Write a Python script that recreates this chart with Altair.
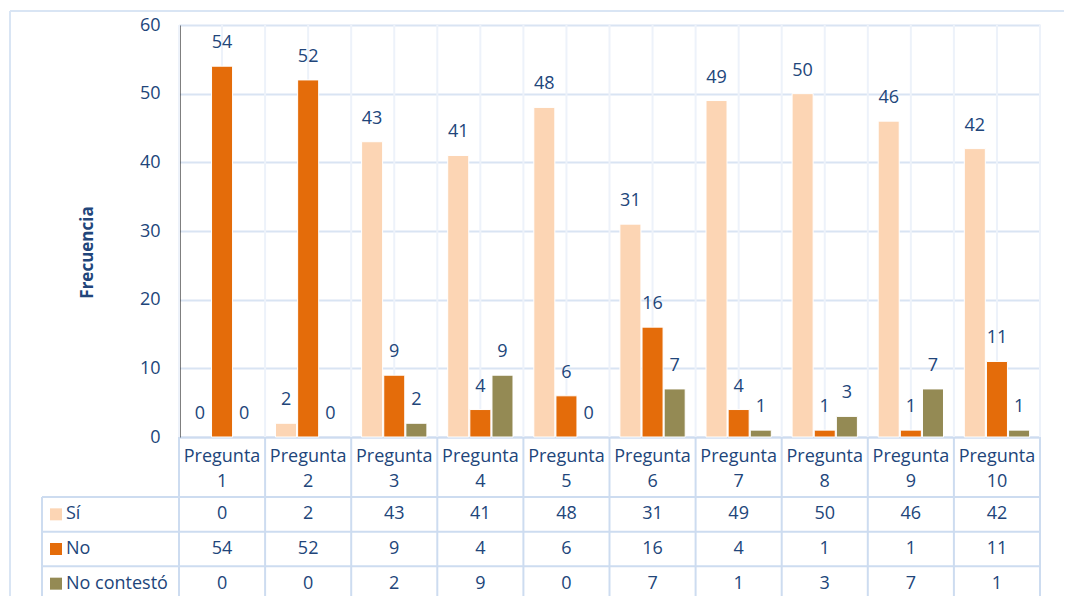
import altair as alt
import pandas as pd

preguntas = ["Pregunta 1", "Pregunta 2", "Pregunta 3", "Pregunta 4", "Pregunta 5",
             "Pregunta 6", "Pregunta 7", "Pregunta 8", "Pregunta 9", "Pregunta 10"]
series = ["Sí", "No", "No contestó"]
si = [0, 2, 43, 41, 48, 31, 49, 50, 46, 42]
no = [54, 52, 9, 4, 6, 16, 4, 1, 1, 11]
no_contesto = [0, 0, 2, 9, 0, 7, 1, 3, 7, 1]
colors = ["#fcd5b4", "#e46c0a", "#948a54"]
y_ticks = [0, 10, 20, 30, 40, 50, 60]

rows = []
for s, vals in zip(series, [si, no, no_contesto]):
    for p, v in zip(preguntas, vals):
        rows.append({"Pregunta": p, "Serie": s, "Valor": v})
df = pd.DataFrame(rows)
df_p = pd.DataFrame({"Pregunta": preguntas})
df_s = pd.DataFrame({"Serie": series})

W, H = 861, 412
NAVY = "#21457a"
FONT = "Open Sans"
FS = 18
GRID = "#d9e4f3"
FAINT = "#edf2fa"
TABLE = "#cddcf0"
BORDER = "#d9e5f4"

xscale = alt.Scale(domain=preguntas, paddingInner=0, paddingOuter=0)
row_scale = alt.Scale(domain=series, range=[472, 576], paddingInner=0, paddingOuter=0)
color_scale = alt.Scale(domain=series, range=colors)
yscale = alt.Scale(domain=[0, 60], nice=False)

x_axis = alt.Axis(orient="bottom", labelExpr="split(datum.label, ' ')", labelAngle=0,
                  labelFont=FONT, labelFontSize=FS, labelColor=NAVY, labelPadding=10,
                  labelLineHeight=25, labelOverlap=False, labelBound=False, labelFlush=False,
                  ticks=False, domain=True, domainColor=TABLE, domainWidth=2,
                  grid=False, title=None)


def xenc(band=None):
    if band is None:
        return alt.X("Pregunta:N", sort=preguntas, scale=xscale, axis=x_axis)
    return alt.X("Pregunta:N", sort=preguntas, scale=xscale, axis=x_axis, bandPosition=band)


xoff = alt.XOffset("Serie:N", sort=series,
                   scale=alt.Scale(domain=series, paddingInner=0.05, paddingOuter=0.47))

# faint vertical grid in plot area (boundaries and centers)
vgrid_b = alt.Chart(df_p).mark_rule(color=FAINT, strokeWidth=2).encode(
    x=xenc(0), y=alt.value(0), y2=alt.value(H))
vgrid_c = alt.Chart(df_p).mark_rule(color=FAINT, strokeWidth=2).encode(
    x=xenc(0.5), y=alt.value(0), y2=alt.value(H))
vgrid_end = alt.Chart(df_p).mark_rule(color=FAINT, strokeWidth=2).encode(
    x=alt.value(W), y=alt.value(0), y2=alt.value(H))

bars = alt.Chart(df).transform_filter("datum.Valor > 0").mark_bar(
    stroke="white", strokeWidth=1).encode(
    x=xenc(),
    xOffset=xoff,
    y=alt.Y("Valor:Q", scale=yscale,
            axis=alt.Axis(values=y_ticks, grid=True, gridColor=GRID, gridWidth=2,
                          domainColor="black", domainWidth=2, ticks=False,
                          labelFont=FONT, labelFontSize=FS, labelColor=NAVY, labelPadding=19,
                          title="Frecuencia", titleFont=FONT, titleFontSize=17,
                          titleFontWeight="bold", titleColor=NAVY, titleX=-92, titleY=227,
                          titleAngle=270, titleAlign="center", titleBaseline="middle")),
    color=alt.Color("Serie:N", scale=color_scale, legend=None),
)

labels = alt.Chart(df).mark_text(font=FONT, fontSize=FS, color=NAVY, baseline="middle", dy=-23).encode(
    x=xenc(),
    xOffset=xoff,
    y=alt.Y("Valor:Q", scale=yscale, axis=None),
    text=alt.Text("Valor:Q"),
)

# table
cells = alt.Chart(df).mark_text(font=FONT, fontSize=FS, color=NAVY, baseline="middle").encode(
    x=xenc(),
    y=alt.Y("Serie:N", scale=row_scale, axis=None),
    text=alt.Text("Valor:Q"),
)
hlines = alt.Chart(df_s).mark_rule(color=TABLE, strokeWidth=2).encode(
    y=alt.Y("Serie:N", scale=row_scale, axis=None, bandPosition=0),
    x=alt.value(-137), x2=alt.value(W))
vlines = alt.Chart(df_p).mark_rule(color=TABLE, strokeWidth=2).encode(
    x=xenc(0), y=alt.value(H), y2=alt.value(575))
vline_end = alt.Chart(df_p).mark_rule(color=TABLE, strokeWidth=2).encode(
    x=alt.value(W), y=alt.value(H), y2=alt.value(575))
vline_left = alt.Chart(df_p).mark_rule(color=TABLE, strokeWidth=2).encode(
    x=alt.value(-137), y=alt.value(472), y2=alt.value(575))
legend_sq = alt.Chart(df_s).mark_square(size=144, opacity=1).encode(
    x=alt.value(-123),
    y=alt.Y("Serie:N", scale=row_scale, axis=None),
    color=alt.Color("Serie:N", scale=color_scale, legend=None))
legend_txt = alt.Chart(df_s).mark_text(font=FONT, fontSize=FS, color=NAVY, align="left",
                                        baseline="middle").encode(
    x=alt.value(-113),
    y=alt.Y("Serie:N", scale=row_scale, axis=None),
    text="Serie:N")

# outer chart border
border_left = alt.Chart(df_p).mark_rule(color=BORDER, strokeWidth=2).encode(
    x=alt.value(-169), y=alt.value(-14), y2=alt.value(575))
border_top = alt.Chart(df_p).mark_rule(color=BORDER, strokeWidth=2).encode(
    x=alt.value(-169), x2=alt.value(885), y=alt.value(-14))

chart = alt.layer(
    border_left, border_top,
    vgrid_b, vgrid_c, vgrid_end,
    bars, labels,
    hlines, vlines, vline_end, vline_left,
    cells, legend_sq, legend_txt,
).resolve_scale(y="independent").properties(
    width=W, height=H,
    padding={"left": 1, "top": 2, "right": 0, "bottom": 0},
    background="white",
).configure_view(stroke=None)

chart.save("out.html", embed_options={"renderer": "svg", "actions": False})
